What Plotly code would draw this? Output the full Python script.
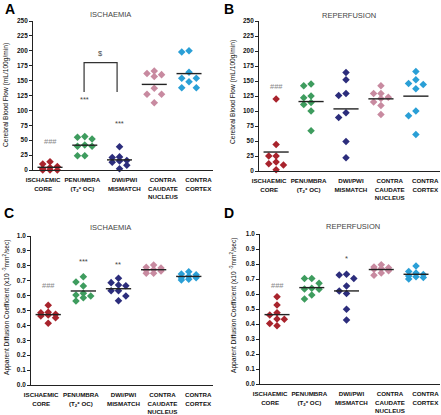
import numpy as np
import plotly.graph_objects as go

# ---------------- data ----------------
categories = ["ISCHAEMIC<br>CORE", "PENUMBRA<br>(T<sub>2</sub>* OC)", "DWI/PWI<br>MISMATCH",
              "CONTRA<br>CAUDATE<br>NUCLEUS", "CONTRA<br>CORTEX"]

cbf_isch_core = [14, 10, 6, 4, 2, 0, 0, 0]
cbf_isch_penumbra = [56, 52, 55, 40, 40, 42, 24, 24]
cbf_isch_mismatch = [39, 22, 21, 16, 15, 13, 8, 2]
cbf_isch_caudate = [166, 160, 157, 162, 137, 127, 127, 113]
cbf_isch_cortex = [198, 200, 164, 154, 154, 148, 138, 138]

cbf_rep_core = [120, 44, 25, 25, 12, 15, 10, 2]
cbf_rep_penumbra = [145, 142, 125, 122, 114, 111, 100, 67]
cbf_rep_mismatch = [164, 152, 129, 126, 97, 89, 49, 22]
cbf_rep_caudate = [142, 129, 129, 123, 121, 115, 109, 94]
cbf_rep_cortex = [166, 152, 146, 144, 137, 100, 92, 61]

adc_isch_core = [0.535, 0.488, 0.474, 0.485, 0.463, 0.452, 0.414, 0.47]
adc_isch_penumbra = [0.727, 0.691, 0.664, 0.604, 0.615, 0.597, 0.586, 0.564]
adc_isch_mismatch = [0.716, 0.687, 0.671, 0.666, 0.633, 0.633, 0.597, 0.566]
adc_isch_caudate = [0.805, 0.79, 0.785, 0.775, 0.77, 0.765, 0.75, 0.75]
adc_isch_cortex = [0.76, 0.745, 0.74, 0.73, 0.72, 0.72, 0.71, 0.705]

adc_rep_core = [0.582, 0.527, 0.475, 0.46, 0.433, 0.431, 0.404, 0.389]
adc_rep_penumbra = [0.704, 0.704, 0.671, 0.638, 0.631, 0.633, 0.593, 0.567]
adc_rep_mismatch = [0.727, 0.731, 0.704, 0.653, 0.604, 0.62, 0.498, 0.427]
adc_rep_caudate = [0.795, 0.78, 0.775, 0.77, 0.765, 0.755, 0.74, 0.725]
adc_rep_cortex = [0.787, 0.75, 0.74, 0.73, 0.72, 0.715, 0.71, 0.70]

sig_A = ["###", "***", "***", "", ""]
sig_B = ["###", "", "", "", ""]
sig_C = ["###", "***", "**", "", ""]
sig_D = ["###", "", "*", "", ""]
bracket_label_A = "$"

# ---------------- styling ----------------
colors = ["#a8232c", "#3e9c5e", "#2c2d7c", "#c88aa0", "#2a9fd6"]
FONT = "Liberation Sans, Arial, sans-serif"
label_pos = [-0.2, 0.93, 2.14, 3.25, 4.27]
XR = [-0.49, 4.69]


def swarm(vals, px_per_unit, col_w=0.21, thresh=6.0):
    vals = np.asarray(vals, float)
    order = np.argsort(-vals, kind="stable")
    placed = []
    offs = np.zeros(len(vals))
    for i in order:
        y = vals[i] * px_per_unit
        chosen, best_c, best_d = None, 0, -1
        for c in [0, -1, 1]:
            d = min([abs(y - py) for pc, py in placed if pc == c], default=1e9)
            if d >= thresh:
                chosen = c
                break
            if d > best_d:
                best_d, best_c = d, c
        if chosen is None:
            chosen = best_c
        placed.append((chosen, y))
        offs[i] = chosen * col_w
    return offs


panels = [
    dict(key="", groups=[cbf_isch_core, cbf_isch_penumbra, cbf_isch_mismatch, cbf_isch_caudate, cbf_isch_cortex],
         ppu=149 / 250, rng=[0, 250], dtick=25, fmt="d", sig=sig_A, sig_y=[48, 119, 78, None, None],
         dom_x=[33 / 441, 213 / 441], dom_y=[1 - 170 / 415, 1 - 21 / 415],
         letter="A", title="ISCHAEMIA", title_x=110, title_y=14, letter_x=3, letter_y=9,
         ytitle="Cerebral Blood Flow (mL/100g/min)", yt_x=6, yt_y=95),
    dict(key="2", groups=[cbf_rep_core, cbf_rep_penumbra, cbf_rep_mismatch, cbf_rep_caudate, cbf_rep_cortex],
         ppu=150 / 250, rng=[0, 250], dtick=25, fmt="d", sig=sig_B, sig_y=[141, None, None, None, None],
         dom_x=[259 / 441, 440 / 441], dom_y=[1 - 171 / 415, 1 - 21 / 415],
         letter="B", title="REPERFUSION", title_x=349, title_y=15, letter_x=222, letter_y=9,
         ytitle="Cerebral Blood Flow (mL/100g/min)", yt_x=233, yt_y=92),
    dict(key="3", groups=[adc_isch_core, adc_isch_penumbra, adc_isch_mismatch, adc_isch_caudate, adc_isch_cortex],
         ppu=149, rng=[0, 1.0], dtick=0.1, fmt=".1f", sig=sig_C, sig_y=[0.665, 0.83, 0.81, None, None],
         dom_x=[31 / 441, 213 / 441], dom_y=[1 - 385 / 415, 1 - 236 / 415],
         letter="C", title="ISCHAEMIA", title_x=110, title_y=227, letter_x=2, letter_y=213,
         ytitle="Apparent Diffusion Coefficient (x10 <sup>-3</sup>mm<sup>2</sup>/sec)", yt_x=6, yt_y=308),
    dict(key="4", groups=[adc_rep_core, adc_rep_penumbra, adc_rep_mismatch, adc_rep_caudate, adc_rep_cortex],
         ppu=150, rng=[0, 1.0], dtick=0.1, fmt=".1f", sig=sig_D, sig_y=[0.655, None, 0.835, None, None],
         dom_x=[260 / 441, 440 / 441], dom_y=[1 - 384 / 415, 1 - 234 / 415],
         letter="D", title="REPERFUSION", title_x=353, title_y=226, letter_x=222, letter_y=213,
         ytitle="Apparent Diffusion Coefficient (x10 <sup>-3</sup>mm<sup>2</sup>/sec)", yt_x=233, yt_y=306),
]

fig = go.Figure()
annotations = []
shapes = []
layout = {}

for p in panels:
    k = p["key"]
    xa, ya = "x" + k, "y" + k
    for i, vals in enumerate(p["groups"]):
        offs = swarm(vals, p["ppu"])
        fig.add_trace(go.Scatter(
            x=[i + o for o in offs], y=vals, mode="markers", xaxis=xa, yaxis=ya,
            marker=dict(symbol="diamond", size=5.8, color=colors[i], line=dict(width=0)),
            cliponaxis=False, showlegend=False, hoverinfo="y"))
        m = float(np.mean(vals))
        fig.add_trace(go.Scatter(
            x=[i - 0.36, i + 0.36], y=[m, m], mode="lines", xaxis=xa, yaxis=ya,
            line=dict(color="#222222", width=1.4), showlegend=False, hoverinfo="skip"))
        if p["sig"][i]:
            color = "#888888" if p["sig"][i].startswith("#") else "#444444"
            annotations.append(dict(x=i, y=p["sig_y"][i], xref=xa, yref=ya, text=p["sig"][i],
                                    xanchor="center", yanchor="middle",
                                    showarrow=False, font=dict(family=FONT, size=7.5, color=color)))
    layout["xaxis" + k] = dict(domain=p["dom_x"], range=XR, showline=True, linecolor="#222222", linewidth=1,
                               ticks="", tickvals=label_pos, ticktext=categories, showgrid=False,
                               zeroline=False, anchor=ya, tickangle=0, automargin=False,
                               ticklabelstandoff=4,
                               tickfont=dict(family=FONT, size=6.2, color="#111111", weight="bold"))
    layout["yaxis" + k] = dict(domain=p["dom_y"], range=p["rng"], dtick=p["dtick"], tick0=0,
                               tickformat=p["fmt"], showline=True, linecolor="#222222", linewidth=1,
                               ticks="outside", ticklen=3, tickwidth=1, tickcolor="#222222",
                               showgrid=False, zeroline=False, anchor=xa, automargin=False,
                               tickfont=dict(family=FONT, size=6.4, color="#111111", weight="bold"))
    annotations.append(dict(x=p["letter_x"] / 441, y=1 - p["letter_y"] / 415, xref="paper", yref="paper",
                            text="<b>" + p["letter"] + "</b>", showarrow=False, xanchor="left",
                            yanchor="middle", font=dict(family=FONT, size=14, color="#000000")))
    annotations.append(dict(x=p["title_x"] / 441, y=1 - p["title_y"] / 415, xref="paper", yref="paper",
                            text=p["title"], showarrow=False, xanchor="center", yanchor="middle",
                            font=dict(family=FONT, size=7.5, color="#444444")))
    annotations.append(dict(x=p["yt_x"] / 441, y=1 - p["yt_y"] / 415, xref="paper", yref="paper",
                            text=p["ytitle"], showarrow=False, textangle=-90,
                            xanchor="center", yanchor="middle",
                            font=dict(family=FONT, size=6.6, color="#111111")))

# significance bracket in panel A
shapes.append(dict(type="path", path="M 0.98,131 L 0.98,180 L 1.93,180 L 1.93,131",
                   xref="x", yref="y", line=dict(color="#333333", width=1.2)))
annotations.append(dict(x=1.455, y=195, xref="x", yref="y", text=bracket_label_A, showarrow=False,
                        xanchor="center", yanchor="middle",
                        font=dict(family=FONT, size=7.5, color="#444444")))

fig.update_layout(width=441, height=415, margin=dict(l=0, r=0, t=0, b=0, autoexpand=False),
                  paper_bgcolor="white", plot_bgcolor="white", showlegend=False,
                  annotations=annotations, shapes=shapes, **layout)
fig.write_html("out.html", config={"displayModeBar": False},
               post_script="document.body.style.margin='0';document.body.style.overflow='hidden';")
